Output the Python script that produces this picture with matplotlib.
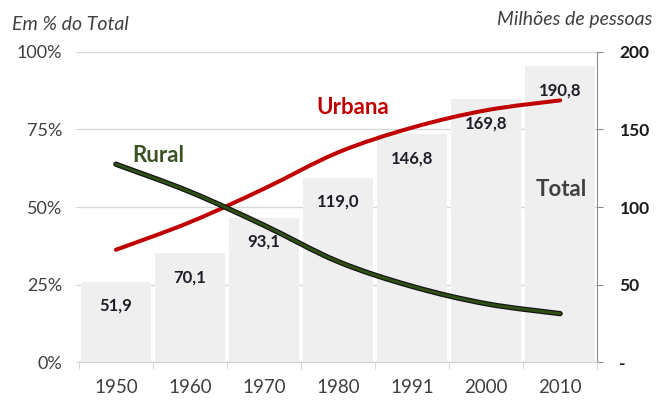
import numpy as np
import matplotlib.pyplot as plt
from matplotlib.path import Path
from matplotlib.patches import PathPatch
import matplotlib.patheffects as pe

# -----------------------------
# DATA
# -----------------------------
years = ["1950", "1960", "1970", "1980", "1991", "2000", "2010"]
total_mi = [51.9, 70.1, 93.1, 119.0, 146.8, 169.8, 190.8]
urbana = [0.362, 0.451, 0.559, 0.676, 0.756, 0.812, 0.844]
rural = [0.638, 0.549, 0.441, 0.324, 0.244, 0.188, 0.156]

left_ticks = [0, 0.25, 0.5, 0.75, 1.0]
left_labels = ["0%", "25%", "50%", "75%", "100%"]
right_ticks = [0, 50, 100, 150, 200]
right_labels = ["-", "50", "100", "150", "200"]

plt.rcParams['font.family'] = ['Lato', 'DejaVu Sans']


def smooth_path(xs, ys):
    # Excel-style smoothed line: Catmull-Rom segments as cubic Bezier
    pts = np.column_stack([xs, ys])
    verts = [pts[0]]
    codes = [Path.MOVETO]
    n = len(pts)
    for i in range(n - 1):
        p0 = pts[max(i - 1, 0)]
        p1 = pts[i]
        p2 = pts[i + 1]
        p3 = pts[min(i + 2, n - 1)]
        c1 = p1 + (p2 - p0) / 6.0
        c2 = p2 - (p3 - p1) / 6.0
        verts += [c1, c2, p2]
        codes += [Path.CURVE4] * 3
    return Path(verts, codes)


# -----------------------------
# PLOT
# -----------------------------
fig = plt.figure(figsize=(6.57, 4.03), dpi=100)
ax = fig.add_axes([0.120, 0.1017, 0.789, 0.7693])
ax2 = ax.twinx()
ax.set_zorder(2)
ax2.set_zorder(1)
ax.patch.set_visible(False)

x = np.arange(len(years))

# bars (millions) on right axis
ax2.bar(x, total_mi, width=0.95, color="#efefef", zorder=2)
ax2.set_ylim(0, 200)
ax2.set_yticks(right_ticks)
ax2.set_yticklabels(right_labels, fontsize=12.5, fontweight="bold", color="#1a1a1a")
ax2.tick_params(axis="y", length=4, color="#8c8c8c", pad=12, direction="out")
for lbl in ax2.get_yticklabels():
    lbl.set_horizontalalignment("left")
ax2.yaxis.grid(True, color="#d9d9d9", linewidth=1, zorder=0)
ax2.set_axisbelow(True)
for s in ["top", "left", "bottom"]:
    ax2.spines[s].set_visible(False)
ax2.spines["right"].set_color("#8c8c8c")

for xi, v in zip(x, total_mi):
    ax2.annotate(f"{v:.1f}".replace(".", ","), (xi, v), xytext=(0, -17.5),
                 textcoords="offset points", ha="center", va="center",
                 fontsize=12, fontweight="bold", color="#1e1e28")

# lines (% of total) on left axis
p_urb = PathPatch(smooth_path(x, urbana), fill=False, edgecolor="#c00000",
                  linewidth=2.9, capstyle="round", zorder=3)
ax.add_patch(p_urb)
p_rur = PathPatch(smooth_path(x, rural), fill=False, edgecolor="#2f5214",
                  linewidth=2.0, capstyle="round", zorder=3)
p_rur.set_path_effects([pe.Stroke(linewidth=3.8, foreground="#141414"), pe.Normal()])
ax.add_patch(p_rur)

ax.set_xlim(-0.5, len(years) - 0.5)
ax.set_ylim(0, 1)
ax.set_yticks(left_ticks)
ax.set_yticklabels(left_labels, fontsize=13, color="#404040")
ax.tick_params(axis="y", length=3, color="#d9d9d9", pad=9)
ax.set_xticks(x)
ax.set_xticklabels(years, fontsize=13.5, color="#404040")
ax.set_xticks(np.arange(-0.5, len(years)), minor=True)
ax.tick_params(axis="x", which="major", length=0, pad=12)
ax.tick_params(axis="x", which="minor", length=5, color="#d0d0d0")
for s in ["top", "left", "right"]:
    ax.spines[s].set_visible(False)
ax.spines["bottom"].set_color("#d0d0d0")

ax.text(0.57, 0.667, "Rural", fontsize=16, fontweight="bold", color="#3b5323",
        ha="center", va="center")
ax.text(3.2, 0.82, "Urbana", fontsize=16, fontweight="bold", color="#c00000",
        ha="center", va="center")
ax.text(6.02, 0.555, "Total", fontsize=16, fontweight="bold", color="#404040",
        ha="center", va="center")

fig.text(12 / 657, 1 - 25 / 403, "Em % do Total", fontsize=14, style="italic",
         color="#404040", ha="left", va="center")
fig.text(652 / 657, 1 - 20 / 403, "Milhões de pessoas", fontsize=14, style="italic",
         color="#404040", ha="right", va="center")

plt.savefig("out.png", dpi=100)
